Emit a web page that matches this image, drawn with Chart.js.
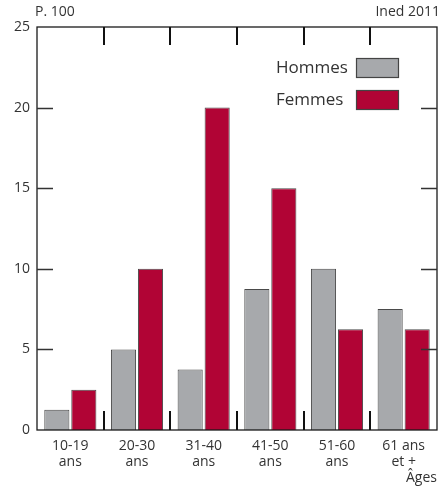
<!DOCTYPE html>
<html>
<head>
<meta charset="utf-8">
<script src="https://cdn.jsdelivr.net/npm/chart.js@4"></script>
<style>
  body { margin: 0; background: #fff; }
</style>
</head>
<body>
<canvas id="chart" width="444" height="488"></canvas>
<script>
// age groups and shares (per 100)
const categories = [['10-19', 'ans'], ['20-30', 'ans'], ['31-40', 'ans'], ['41-50', 'ans'], ['51-60', 'ans'], ['61 ans', 'et +']];
const hommes = [1.25, 5, 3.75, 8.75, 10, 7.5];
const femmes = [2.5, 10, 20, 15, 6.25, 6.25];
const yTicks = [0, 5, 10, 15, 20, 25];

const textColor = '#333';
const fontFamily = '"Open Sans", "Noto Sans", sans-serif';

// frame, inward ticks and group separators
const framePlugin = {
  id: 'frame',
  afterDraw(chart) {
    const { ctx, chartArea: a, scales } = chart;
    const x = scales.x, y = scales.y;
    ctx.save();
    ctx.strokeStyle = '#1a1a1a';
    ctx.lineWidth = 1.3;
    ctx.strokeRect(a.left, a.top, a.right - a.left, a.bottom - a.top);

    ctx.strokeStyle = '#333';
    ctx.lineWidth = 1.5;
    yTicks.slice(1, -1).forEach(v => {
      const py = Math.round(y.getPixelForValue(v)) + 0.5;
      ctx.beginPath();
      ctx.moveTo(a.left, py); ctx.lineTo(a.left + 16, py);
      ctx.moveTo(a.right, py); ctx.lineTo(a.right - 16, py);
      ctx.stroke();
    });

    ctx.strokeStyle = '#111';
    ctx.lineWidth = 2;
    for (let i = 1; i < categories.length; i++) {
      const px = Math.round((x.getPixelForValue(i - 1) + x.getPixelForValue(i)) / 2);
      ctx.beginPath();
      ctx.moveTo(px, a.top); ctx.lineTo(px, a.top + 18);
      ctx.moveTo(px, a.bottom); ctx.lineTo(px, a.bottom - 19);
      ctx.stroke();
    }

    // header texts
    ctx.fillStyle = textColor;
    ctx.font = '14px ' + fontFamily;
    ctx.textBaseline = 'middle';
    ctx.textAlign = 'left';
    ctx.fillText('P. 100', a.left - 2, 12);
    ctx.textAlign = 'right';
    ctx.fillText('Ined 2011', a.right + 3, 12);

    // legend inside the plot
    chart.data.datasets.forEach((ds, i) => {
      const cy = a.top + 41 + i * 32;
      const bx = a.right - 81;
      ctx.fillStyle = ds.backgroundColor;
      ctx.fillRect(bx, cy - 10, 43, 20);
      ctx.strokeStyle = '#444';
      ctx.lineWidth = 1.2;
      ctx.strokeRect(bx + 0.5, cy - 9.5, 42, 19);
      ctx.fillStyle = textColor;
      ctx.font = '17px ' + fontFamily;
      ctx.textAlign = 'left';
      ctx.fillText(ds.label, a.left + 239, cy);
    });
    ctx.restore();
  }
};

new Chart(document.getElementById('chart'), {
  type: 'bar',
  data: {
    labels: categories,
    datasets: [
      { label: 'Hommes', data: hommes, backgroundColor: '#a7a9ac', borderColor: '#4a4a4a', borderWidth: 1 },
      { label: 'Femmes', data: femmes, backgroundColor: '#b10435', borderColor: '#4a4a4a', borderWidth: 1 }
    ]
  },
  options: {
    responsive: false,
    animation: false,
    layout: { padding: { top: 27, right: 7, left: 0, bottom: 0 } },
    categoryPercentage: 0.81,
    barPercentage: 0.93,
    plugins: {
      legend: { display: false },
      tooltip: { enabled: false }
    },
    scales: {
      x: {
        grid: { display: false, drawTicks: false },
        border: { display: false },
        ticks: { color: textColor, font: { family: fontFamily, size: 14, lineHeight: 1.15 }, padding: 8, maxRotation: 0 },
        title: { display: true, text: 'Âges', align: 'end', color: textColor, font: { family: fontFamily, size: 14 }, padding: { top: 0, bottom: 2 } },
        afterFit(scale) { scale.height = 58; }
      },
      y: {
        min: 0,
        max: 25,
        afterBuildTicks(scale) { scale.ticks = yTicks.map(v => ({ value: v })); },
        grid: { display: false, drawTicks: false },
        border: { display: false },
        ticks: { color: textColor, font: { family: fontFamily, size: 14 }, padding: 7 },
        afterFit(scale) { scale.width = 37; }
      }
    }
  },
  plugins: [framePlugin]
});
</script>
</body>
</html>
